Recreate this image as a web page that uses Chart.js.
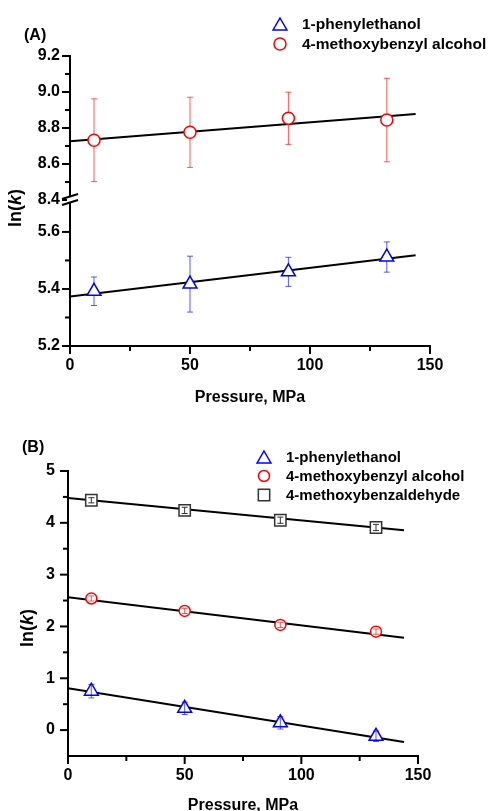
<!DOCTYPE html>
<html>
<head>
<meta charset="utf-8">
<script src="https://cdn.jsdelivr.net/npm/chart.js@4.4.1/dist/chart.umd.min.js"></script>
<style>
    body { margin: 0; background: #fff; }
    #wrap { position: relative; width: 493px; height: 811px; overflow: hidden; }
    #wrap canvas { position: absolute; left: 0; }
</style>
</head>
<body>
<div id="wrap">
    <canvas id="chartA" width="493" height="420" style="top:0px"></canvas>
    <canvas id="chartB" width="493" height="411" style="top:420px"></canvas>
</div>
<script>
var FONT = '"Liberation Sans", Arial, sans-serif';

// panel (A) - ln(k) vs pressure, two substrates
var pressureA = [10, 50, 91, 132];
var phenylA = [5.392, 5.417, 5.46, 5.512];
var phenylErrA = [0.05, 0.098, 0.051, 0.053];
var alcoholA = [8.732, 8.776, 8.854, 8.844];
var alcoholErrA = [0.23, 0.195, 0.145, 0.232];
var fitPressureA = [0, 144];
var phenylFitA = [5.374, 5.518];
var alcoholFitA = [8.726, 8.878];

// panel (B)
var pressureB = [10, 50, 91, 132];
var phenylB = [0.75, 0.42, 0.14, -0.12];
var phenylErrB = [0.13, 0.12, 0.12, 0.1];
var alcoholB = [2.54, 2.30, 2.03, 1.90];
var alcoholErrB = [0.05, 0.05, 0.05, 0.05];
var aldehydeB = [4.435, 4.24, 4.05, 3.91];
var aldehydeErrB = [0.05, 0.06, 0.06, 0.06];
var fitPressureB = [0, 144];
var phenylFitB = [0.81, -0.23];
var alcoholFitB = [2.565, 1.78];
var aldehydeFitB = [4.48, 3.855];

var seriesNames = ['1-phenylethanol', '4-methoxybenzyl alcohol', '4-methoxybenzaldehyde'];

// ticks: labelled (major) and unlabelled (minor)
var xMajor = [0, 50, 100, 150];
var xMinor = [25, 75, 125];
var yTopMajorA = [8.4, 8.6, 8.8, 9.0, 9.2];
var yTopMinorA = [8.5, 8.7, 8.9, 9.1];
var yBotMajorA = [5.2, 5.4, 5.6];
var yBotMinorA = [5.3, 5.5];
var yMajorB = [0, 1, 2, 3, 4, 5];
var yMinorB = [0.5, 1.5, 2.5, 3.5, 4.5];

Chart.defaults.font.family = FONT;

function points(xs, ys) {
    return xs.map(function (x, i) { return { x: x, y: ys[i] }; });
}

function setTicks(major, minor) {
    return function (scale) {
        scale.ticks = major.concat(minor).sort(function (a, b) { return a - b; })
            .map(function (v) { return { value: v }; });
    };
}

function tickLabel(major, digits) {
    return function (value) {
        for (var i = 0; i < major.length; i++) {
            if (Math.abs(major[i] - value) < 1e-9) return value.toFixed(digits);
        }
        return '';
    };
}

function boldFont(size) {
    return { family: FONT, size: size, weight: 'bold' };
}

function drawMarker(ctx, style, x, y, r, color, lw) {
    ctx.save();
    ctx.strokeStyle = color;
    ctx.lineWidth = lw;
    ctx.fillStyle = '#fff';
    ctx.beginPath();
    if (style === 'triangle') {
        y += r / 4;
        ctx.moveTo(x, y - r);
        ctx.lineTo(x + r * 0.866, y + r / 2);
        ctx.lineTo(x - r * 0.866, y + r / 2);
        ctx.closePath();
    } else if (style === 'rect') {
        var h = r * Math.SQRT1_2;
        ctx.rect(x - h, y - h, 2 * h, 2 * h);
    } else {
        ctx.arc(x, y, r, 0, Math.PI * 2);
    }
    ctx.fill();
    ctx.stroke();
    ctx.restore();
}

function drawErrors(chart) {
    var ctx = chart.ctx;
    ctx.save();
    ctx.lineWidth = 1;
    chart.data.datasets.forEach(function (ds) {
        if (!ds.errors) return;
        var xs = chart.scales[ds.xAxisID || 'x'];
        var ys = chart.scales[ds.yAxisID || 'y'];
        ctx.strokeStyle = ds.errorColor;
        ds.data.forEach(function (pt, j) {
            var px = xs.getPixelForValue(pt.x);
            var top = ys.getPixelForValue(pt.y + ds.errors[j]);
            var bot = ys.getPixelForValue(pt.y - ds.errors[j]);
            ctx.beginPath();
            ctx.moveTo(px, top);
            ctx.lineTo(px, bot);
            ctx.moveTo(px - 3, top);
            ctx.lineTo(px + 3, top);
            ctx.moveTo(px - 3, bot);
            ctx.lineTo(px + 3, bot);
            ctx.stroke();
        });
    });
    ctx.restore();
}

var errorBars = {
    id: 'errorBars',
    beforeDatasetsDraw: function (chart, args, opts) { if (!opts.onTop) drawErrors(chart); },
    afterDatasetsDraw: function (chart, args, opts) { if (opts.onTop) drawErrors(chart); }
};

// tick marks: long for labelled ticks, short for minor ones
var tickMarks = {
    id: 'tickMarks',
    afterDraw: function (chart) {
        var ctx = chart.ctx;
        ctx.save();
        ctx.strokeStyle = '#000';
        ctx.lineWidth = 2;
        Object.keys(chart.scales).forEach(function (id) {
            var s = chart.scales[id];
            s.ticks.forEach(function (t) {
                var len = t.label !== '' ? 8 : 5;
                var p = s.getPixelForValue(t.value);
                ctx.beginPath();
                if (s.isHorizontal()) {
                    ctx.moveTo(p, s.top);
                    ctx.lineTo(p, s.top + len);
                } else {
                    ctx.moveTo(s.right, p);
                    ctx.lineTo(s.right - len, p);
                }
                ctx.stroke();
            });
        });
        ctx.restore();
    }
};

var axisBreak = {
    id: 'axisBreak',
    afterDraw: function (chart) {
        var s = chart.scales.yTop;
        if (!s) return;
        var ctx = chart.ctx, x = s.right, y = s.bottom;
        ctx.save();
        ctx.fillStyle = '#fff';
        ctx.fillRect(x - 3, y - 3, 6, 6);
        ctx.strokeStyle = '#000';
        ctx.lineWidth = 2;
        ctx.beginPath();
        ctx.moveTo(x - 8, y - 1);
        ctx.lineTo(x + 8, y - 6);
        ctx.moveTo(x - 8, y + 5);
        ctx.lineTo(x + 8, y);
        ctx.stroke();
        ctx.restore();
    }
};

var sketchLegend = {
    id: 'sketchLegend',
    afterDraw: function (chart, args, opts) {
        var ctx = chart.ctx, row = 0;
        chart.data.datasets.forEach(function (ds) {
            if (!ds.inLegend) return;
            var y = opts.y + row * opts.gap;
            drawMarker(ctx, ds.pointStyle, opts.x, y, ds.pointRadius, ds.borderColor, ds.pointBorderWidth);
            ctx.save();
            ctx.font = 'bold ' + opts.size + 'px ' + FONT;
            ctx.fillStyle = '#000';
            ctx.textBaseline = 'middle';
            ctx.fillText(ds.label, opts.textX, y + 1);
            ctx.restore();
            row++;
        });
    }
};

// panel letter and the ln(k) axis title with an italic k
var panelText = {
    id: 'panelText',
    afterDraw: function (chart, args, opts) {
        var ctx = chart.ctx;
        ctx.save();
        ctx.fillStyle = '#000';
        ctx.textBaseline = 'middle';
        ctx.font = 'bold 16px ' + FONT;
        ctx.fillText(opts.letter, opts.letterX, opts.letterY);

        var parts = [['ln(', 'bold '], ['k', 'italic bold '], [')', 'bold ']];
        var total = 0;
        parts.forEach(function (p) {
            ctx.font = p[1] + opts.titleSize + 'px ' + FONT;
            total += ctx.measureText(p[0]).width;
        });
        ctx.translate(opts.titleX, opts.titleY);
        ctx.rotate(-Math.PI / 2);
        var x = -total / 2;
        parts.forEach(function (p) {
            ctx.font = p[1] + opts.titleSize + 'px ' + FONT;
            ctx.fillText(p[0], x, 0);
            x += ctx.measureText(p[0]).width;
        });
        ctx.restore();
    }
};

function xScale(height, titlePad) {
    return {
        type: 'linear',
        position: 'bottom',
        min: 0,
        max: 150,
        afterBuildTicks: setTicks(xMajor, xMinor),
        afterFit: function (s) { s.height = height; },
        grid: { display: false, drawTicks: false },
        border: { display: true, color: '#000', width: 2 },
        ticks: {
            autoSkip: false, maxRotation: 0, padding: 10, color: '#000',
            font: boldFont(16), callback: tickLabel(xMajor, 0)
        },
        title: {
            display: true, text: 'Pressure, MPa', color: '#000',
            font: boldFont(16), padding: { top: 0, bottom: titlePad }
        }
    };
}

function yScale(opts) {
    var scale = {
        type: 'linear',
        axis: 'y',
        position: 'left',
        min: opts.min,
        max: opts.max,
        afterBuildTicks: setTicks(opts.major, opts.minor),
        afterFit: function (s) { s.width = opts.width; },
        grid: { display: false, drawTicks: false },
        border: { display: true, color: '#000', width: 2 },
        ticks: {
            autoSkip: false, padding: opts.pad, color: '#000',
            font: boldFont(16), callback: tickLabel(opts.major, opts.digits)
        }
    };
    if (opts.stack) {
        scale.stack = opts.stack;
        scale.stackWeight = opts.weight;
    }
    return scale;
}

function markerSet(label, xs, ys, errs, style, radius, color, errColor, yAxis) {
    return {
        label: label,
        inLegend: true,
        data: points(xs, ys),
        errors: errs,
        errorColor: errColor,
        yAxisID: yAxis,
        pointStyle: style,
        pointRadius: radius,
        pointHoverRadius: radius,
        pointBorderWidth: 1.5,
        borderColor: color,
        backgroundColor: '#fff',
        pointBackgroundColor: '#fff'
    };
}

function fitLine(xs, ys, yAxis) {
    return {
        label: 'fit',
        data: points(xs, ys),
        yAxisID: yAxis,
        showLine: true,
        pointRadius: 0,
        borderColor: '#000',
        borderWidth: 2
    };
}

var commonPlugins = [errorBars, tickMarks, axisBreak, sketchLegend, panelText];

var chartA = new Chart(document.getElementById('chartA'), {
    type: 'scatter',
    data: {
        datasets: [
            markerSet(seriesNames[0], pressureA, phenylA, phenylErrA, 'triangle', 8, '#0000ff', 'rgba(0,0,255,0.65)', 'yBot'),
            markerSet(seriesNames[1], pressureA, alcoholA, alcoholErrA, 'circle', 6, '#ff0000', 'rgba(255,0,0,0.65)', 'yTop'),
            fitLine(fitPressureA, phenylFitA, 'yBot'),
            fitLine(fitPressureA, alcoholFitA, 'yTop')
        ]
    },
    options: {
        responsive: false,
        animation: false,
        layout: { padding: { top: 56, right: 63, left: 0, bottom: 0 } },
        scales: {
            x: xScale(74, 13),
            yBot: yScale({ min: 5.2, max: 5.712, major: yBotMajorA, minor: yBotMinorA, digits: 1, width: 70, pad: 10, stack: 'lnk', weight: 146 }),
            yTop: yScale({ min: 8.4, max: 9.2, major: yTopMajorA, minor: yTopMinorA, digits: 1, width: 70, pad: 10, stack: 'lnk', weight: 144 })
        },
        plugins: {
            legend: { display: false },
            tooltip: { enabled: false },
            errorBars: { onTop: false },
            sketchLegend: { x: 280, y: 24, gap: 20, textX: 302, size: 15.5 },
            panelText: { letter: '(A)', letterX: 24, letterY: 36, titleX: 16, titleY: 208, titleSize: 18 }
        }
    },
    plugins: commonPlugins
});

var chartB = new Chart(document.getElementById('chartB'), {
    type: 'scatter',
    data: {
        datasets: [
            markerSet(seriesNames[0], pressureB, phenylB, phenylErrB, 'triangle', 8, '#0000ff', 'rgba(0,0,255,0.65)', 'y'),
            markerSet(seriesNames[1], pressureB, alcoholB, alcoholErrB, 'circle', 5.5, '#ff0000', 'rgba(255,0,0,0.65)', 'y'),
            markerSet(seriesNames[2], pressureB, aldehydeB, aldehydeErrB, 'rect', 8, '#333333', '#333333', 'y'),
            fitLine(fitPressureB, phenylFitB, 'y'),
            fitLine(fitPressureB, alcoholFitB, 'y'),
            fitLine(fitPressureB, aldehydeFitB, 'y')
        ]
    },
    options: {
        responsive: false,
        animation: false,
        layout: { padding: { top: 51, right: 75, left: 0, bottom: 0 } },
        scales: {
            x: xScale(75, 16),
            y: yScale({ min: -0.5, max: 5, major: yMajorB, minor: yMinorB, digits: 0, width: 68, pad: 13 })
        },
        plugins: {
            legend: { display: false },
            tooltip: { enabled: false },
            errorBars: { onTop: true },
            sketchLegend: { x: 264, y: 37, gap: 19, textX: 286, size: 15 },
            panelText: { letter: '(B)', letterX: 22, letterY: 27.5, titleX: 28, titleY: 208, titleSize: 18 }
        }
    },
    plugins: commonPlugins
});
</script>
</body>
</html>
